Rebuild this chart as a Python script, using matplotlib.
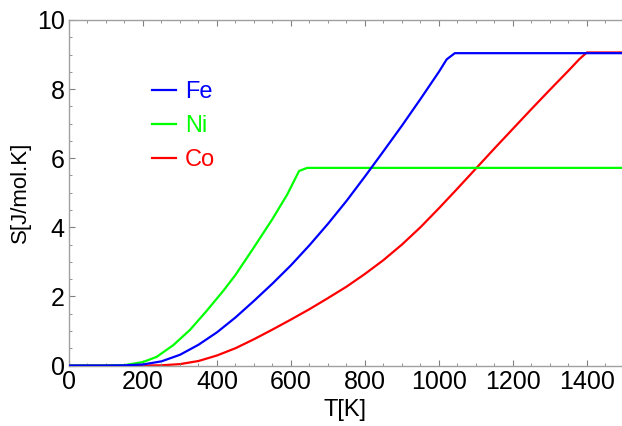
import matplotlib as mpl
mpl.use('Agg')
import matplotlib.pyplot as plt
from matplotlib.ticker import MultipleLocator

# values (T in K, S in J/mol.K)
t_fe = [0, 100, 150, 200, 250, 300, 350, 400, 450, 500, 550, 600, 650, 700,
        750, 800, 850, 900, 950, 1000, 1021, 1043, 1495]
s_fe = [0, 0, 0.005, 0.03, 0.12, 0.31, 0.6, 0.96, 1.39, 1.87, 2.37, 2.9, 3.48,
        4.1, 4.76, 5.47, 6.2, 6.94, 7.71, 8.5, 8.86, 9.04, 9.04]

t_ni = [0, 100, 150, 200, 237, 282, 327, 372, 417, 450, 500, 550, 590, 622,
        644, 1495]
s_ni = [0, 0, 0.01, 0.1, 0.25, 0.59, 1.03, 1.58, 2.16, 2.62, 3.42, 4.24, 4.95,
        5.63, 5.72, 5.72]

t_co = [0, 200, 250, 300, 350, 400, 450, 500, 550, 600, 650, 700, 750, 800,
        850, 900, 950, 1000, 1050, 1100, 1150, 1200, 1250, 1300, 1350, 1380,
        1400, 1495]
s_co = [0, 0, 0.005, 0.04, 0.13, 0.29, 0.5, 0.76, 1.04, 1.33, 1.63, 1.95,
        2.28, 2.65, 3.05, 3.5, 4.0, 4.55, 5.12, 5.7, 6.28, 6.85, 7.42, 7.98,
        8.53, 8.87, 9.06, 9.06]

plt.rcParams['font.family'] = ['Liberation Sans', 'DejaVu Sans']

fig = plt.figure(figsize=(6.22, 4.26), dpi=100)
ax = fig.add_axes([69 / 622, 60.5 / 426, 553 / 622, 345.5 / 426])

ax.plot(t_fe, s_fe, color='#0000ff', lw=1.6, label='Fe', zorder=3)
ax.plot(t_ni, s_ni, color='#00ff00', lw=1.6, label='Ni', zorder=2)
ax.plot(t_co, s_co, color='#ff0000', lw=1.6, label='Co', zorder=1)

ax.set_xlim(0, 1495)
ax.set_ylim(0, 10)

ax.xaxis.set_major_locator(MultipleLocator(200))
ax.xaxis.set_minor_locator(MultipleLocator(50))
ax.yaxis.set_major_locator(MultipleLocator(2))
ax.yaxis.set_minor_locator(MultipleLocator(0.5))

for side in ['left', 'bottom', 'top']:
    ax.spines[side].set_color('#a0a0a0')
    ax.spines[side].set_linewidth(1.0)
ax.spines['right'].set_visible(False)

ax.tick_params(which='both', direction='in', color='#808080', top=True,
               right=False, labelsize=18, pad=3)
ax.tick_params(which='major', length=4, width=0.8)
ax.tick_params(which='minor', length=2, width=0.6)

ax.set_xlabel('T[K]', fontsize=17, labelpad=4)
ax.set_ylabel('S[J/mol.K]', fontsize=16, labelpad=4)

leg = ax.legend(loc='upper left', bbox_to_anchor=(0.112, 0.884), frameon=False,
                fontsize=17, handlelength=1.0, handletextpad=0.4,
                labelspacing=0.5, labelcolor='linecolor')

fig.savefig('out.png', dpi=100)
